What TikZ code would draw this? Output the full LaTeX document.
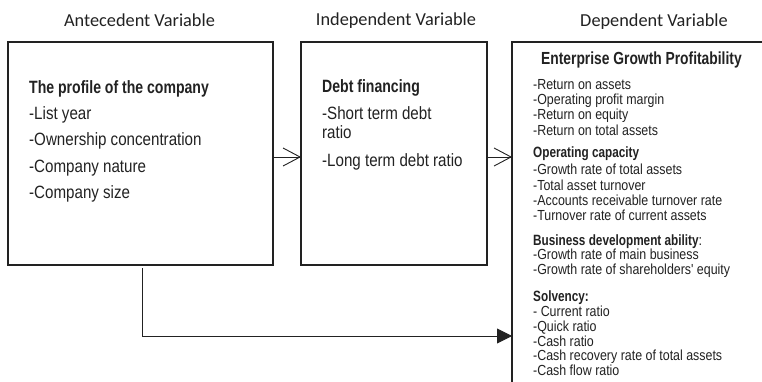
\documentclass[tikz,border=0pt]{standalone}
\usepackage{fontspec}
\setmainfont{Liberation Sans}
\newfontfamily\labelfont{Carlito}
\newfontfamily\boxfont[FakeStretch=0.85]{Liberation Sans}
\newfontfamily\boxbold[FakeStretch=0.79]{Liberation Sans Bold}
\usetikzlibrary{arrows.meta}
\definecolor{ink}{HTML}{222222}
\begin{document}
\begin{tikzpicture}[x=1pt,y=-1pt,
  box/.style={draw=ink, line width=1.3pt, inner sep=0pt, outer sep=0pt, anchor=north west},
  varlabel/.style={font=\labelfont\fontsize{18.3}{20}\selectfont, text=ink, anchor=base, inner sep=0pt},
  bigtxt/.style={font=\boxfont\fontsize{17.8}{20}\selectfont, text=ink, anchor=base west, inner sep=0pt},
  bighead/.style={font=\boxbold\fontsize{17.8}{20}\selectfont, text=ink, anchor=base west, inner sep=0pt},
  smalltxt/.style={font=\boxfont\fontsize{14.6}{16}\selectfont, text=ink, anchor=base west, inner sep=0pt},
  smallhead/.style={font=\boxbold\fontsize{14.9}{16}\selectfont, text=ink, anchor=base west, inner sep=0pt},
  openarrow/.style={draw=ink, line width=0.9pt, -{Straight Barb[length=17pt,width=18pt,line width=0.9pt]}},
  fillarrow/.style={draw=ink, line width=0.9pt, -{Triangle[length=15pt,width=15pt]}}
]
\useasboundingbox (0,0) rectangle (762,382);
\clip (0,0) rectangle (762,382);
\fill[white] (0,0) rectangle (762,382);

% variable labels
\node[varlabel] (lA) at (139.5,27) {Antecedent Variable};
\node[varlabel] (lB) at (396,26) {Independent Variable};
\node[varlabel] (lC) at (654,27) {Dependent Variable};

% boxes
\node[box, minimum width=265pt, minimum height=223pt] (A) at (8,42) {};
\node[box, minimum width=186pt, minimum height=223pt] (B) at (301,42) {};
\node[box, minimum width=320pt, minimum height=420pt] (C) at (512,42) {};

% box A text
\node[bighead] (a0) at (29,94) {The profile of the company};
\node[bigtxt] (a1) at (29,120) {-List year};
\node[bigtxt] (a2) at (29,146) {-Ownership concentration};
\node[bigtxt] (a3) at (29,172) {-Company nature};
\node[bigtxt] (a4) at (29,198) {-Company size};

% box B text
\node[bighead] (b0) at (322,93) {Debt financing};
\node[bigtxt] (b1) at (322,120) {-Short term debt};
\node[bigtxt] (b2) at (322,139) {ratio};
\node[bigtxt] (b3) at (322,167) {-Long term debt ratio};

% box C text
\node[font=\boxbold\fontsize{17.5}{20}\selectfont, text=ink, anchor=base west, inner sep=0pt] (c0) at (541,65) {Enterprise Growth Profitability};
\node[smalltxt] (c1) at (533,90) {-Return on assets};
\node[smalltxt] (c2) at (533,105) {-Operating profit margin};
\node[smalltxt] (c3) at (533,120) {-Return on equity};
\node[smalltxt] (c4) at (533,135.5) {-Return on total assets};
\node[smallhead] (c5) at (533,158) {Operating capacity};
\node[smalltxt] (c6) at (533,175) {-Growth rate of total assets};
\node[smalltxt] (c7) at (533,190) {-Total asset turnover};
\node[smalltxt] (c8) at (533,205) {-Accounts receivable turnover rate};
\node[smalltxt] (c9) at (533,220) {-Turnover rate of current assets};
\node[smallhead] (c10) at (533,245) {Business development ability{\boxfont:}};
\node[smalltxt] (c11) at (533,259.5) {-Growth rate of main business};
\node[smalltxt] (c12) at (533,274.5) {-Growth rate of shareholders' equity};
\node[smallhead] (c13) at (533,301) {Solvency:};
\node[smalltxt] (c14) at (533,316) {- Current ratio};
\node[smalltxt] (c15) at (533,331) {-Quick ratio};
\node[smalltxt] (c16) at (533,346) {-Cash ratio};
\node[smalltxt] (c17) at (533,360.5) {-Cash recovery rate of total assets};
\node[smalltxt] (c18) at (533,375.5) {-Cash flow ratio};

% connectors
\coordinate (ab) at (0,157);
\draw[openarrow] (A.east |- ab) -- (B.west |- ab);
\draw[openarrow] (B.east |- ab) -- (C.west |- ab);
\coordinate (low) at (0,336);
\draw[fillarrow] ([xshift=1.5pt,yshift=-3pt]A.south) |- (C.west |- low);
\end{tikzpicture}
\end{document}
